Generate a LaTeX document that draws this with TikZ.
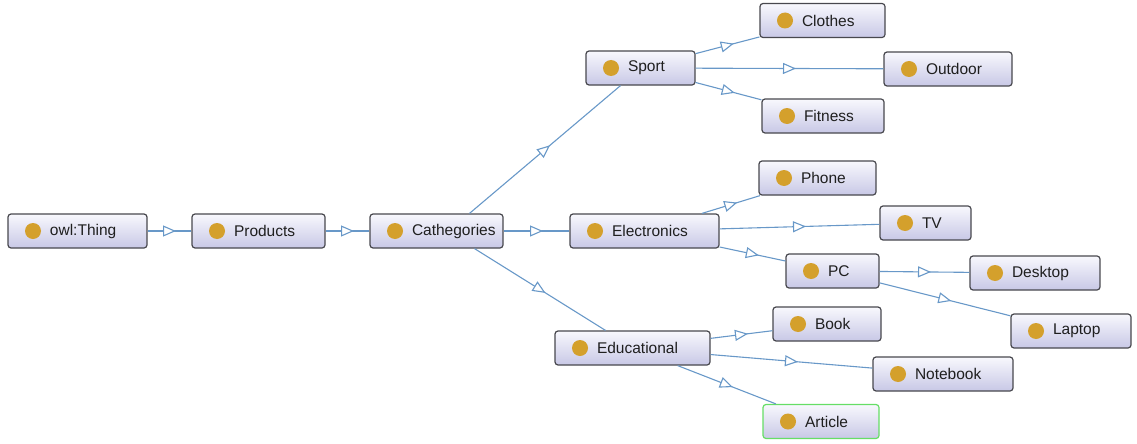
\documentclass[tikz,border=0pt]{standalone}
\usepackage{fontspec}
\setmainfont{Liberation Sans}
\usepackage{xcolor}
\usepackage{tikz}
\usetikzlibrary{arrows.meta,decorations.markings}

\definecolor{edgeblue}{RGB}{104,152,200}
\definecolor{boxline}{RGB}{72,72,78}
\definecolor{boxtop}{RGB}{248,248,253}
\definecolor{boxbottom}{RGB}{200,200,230}
\definecolor{dotgold}{RGB}{212,160,44}
\definecolor{selgreen}{RGB}{102,222,102}

\begin{document}
\begin{tikzpicture}[
            x = 1pt, y = -1pt,
            owlclass/.style = {draw = boxline, line width = 1.2pt, rounded corners = 3pt,
                top color = boxtop, bottom color = boxbottom, minimum height = 34pt,
                inner xsep = 0pt, text width = #1, align = left, text = black!88,
                font = \fontsize{15.5}{18}\selectfont,
                path picture = {\fill[dotgold] ([xshift = 25pt]path picture bounding box.west) circle (8pt);}},
            isa/.style = {draw = edgeblue, line width = 1.1pt, postaction = {decorate},
                decoration = {markings, mark = at position 0.5 with
                    {\arrow[xshift = 6.5pt]{Triangle[length = 13pt, width = 11pt, fill = white]}}}}]
            \useasboundingbox (0,0) rectangle (1137,444);
            \node[owlclass = 139pt] (thing) at (77.5,231) {\hspace*{42pt}owl:Thing};
            \node[owlclass = 133pt] (products) at (258.5,231) {\hspace*{42pt}Products};
            \node[owlclass = 133pt] (cath) at (436.5,231) {\hspace*{42pt}Cathegories};
            \node[owlclass = 109pt] (sport) at (640.5,68) {\hspace*{42pt}Sport};
            \node[owlclass = 149pt] (electr) at (644.5,231) {\hspace*{42pt}Electronics};
            \node[owlclass = 155pt] (edu) at (632.5,348) {\hspace*{42pt}Educational};
            \node[owlclass = 125pt] (clothes) at (822.5,20.5) {\hspace*{42pt}Clothes};
            \node[owlclass = 128pt] (outdoor) at (948,69) {\hspace*{42pt}Outdoor};
            \node[owlclass = 122pt] (fitness) at (823,116) {\hspace*{42pt}Fitness};
            \node[owlclass = 117pt] (phone) at (817.5,178) {\hspace*{42pt}Phone};
            \node[owlclass = 91pt] (tv) at (925.5,223) {\hspace*{42pt}TV};
            \node[owlclass = 93pt] (pc) at (832.5,271) {\hspace*{42pt}PC};
            \node[owlclass = 130pt] (desktop) at (1035,273) {\hspace*{42pt}Desktop};
            \node[owlclass = 120pt] (laptop) at (1071,331) {\hspace*{42pt}Laptop};
            \node[owlclass = 108pt] (book) at (827,324) {\hspace*{42pt}Book};
            \node[owlclass = 140pt] (notebook) at (943,374) {\hspace*{42pt}Notebook};
            \node[owlclass = 116pt, draw = selgreen] (article) at (821,421.5) {\hspace*{42pt}Article};
            \draw[isa] (thing) -- (products);
            \draw[isa] (products) -- (cath);
            \draw[isa] ([xshift = 33pt]cath.north) -- ([xshift = -20pt]sport.south);
            \draw[isa] (cath) -- (electr);
            \draw[isa] ([xshift = 38pt]cath.south) -- ([xshift = -27pt]edu.north);
            \draw[isa] (sport) -- (clothes);
            \draw[isa] (sport) -- (outdoor);
            \draw[isa] (sport) -- (fitness);
            \draw[isa] (electr) -- (phone);
            \draw[isa] (electr) -- (tv);
            \draw[isa] (electr) -- (pc);
            \draw[isa] (pc) -- (desktop);
            \draw[isa] (pc) -- (laptop);
            \draw[isa] (edu) -- (book);
            \draw[isa] (edu) -- (notebook);
            \draw[isa] (edu) -- (article);
        \end{tikzpicture}
\end{document}
